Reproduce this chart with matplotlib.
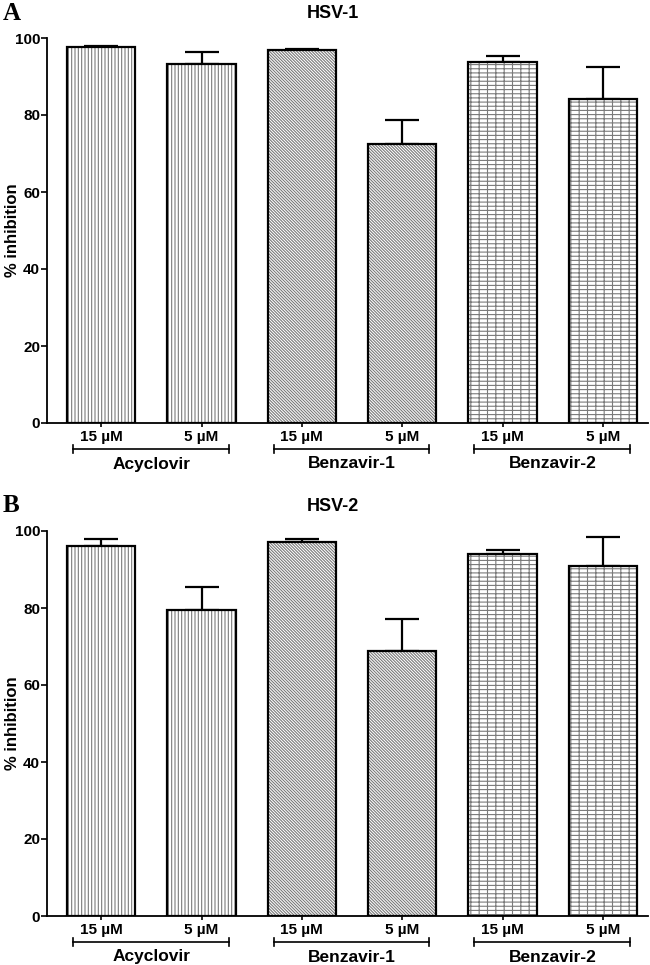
import numpy as np
import matplotlib
matplotlib.use('Agg')
import matplotlib.pyplot as plt
from matplotlib.transforms import blended_transform_factory

plt.rcParams['font.family'] = ['Liberation Sans', 'DejaVu Sans']
plt.rcParams['font.weight'] = 'bold'
plt.rcParams['hatch.linewidth'] = 0.8

# data
groups = ['Acyclovir', 'Benzavir-1', 'Benzavir-2']
conc = ['15 µM', '5 µM']
hsv1_mean = [97.6, 93.3, 97.0, 72.4, 93.7, 84.2]
hsv1_err = [0.3, 3.1, 0.2, 6.3, 1.6, 8.3]
hsv2_mean = [96.2, 79.5, 97.2, 68.8, 94.0, 90.8]
hsv2_err = [1.6, 6.0, 0.6, 8.4, 1.0, 7.7]
hatches = ['|||||', '\\' * 11, '----||']

panels = [('A', 'HSV-1', hsv1_mean, hsv1_err),
          ('B', 'HSV-2', hsv2_mean, hsv2_err)]

fig = plt.figure(figsize=(6.5, 9.65), dpi=100)
W, H = 650., 965.

def draw_panel(ax, letter, title, mean, err, top_px):
    x = np.arange(len(mean))
    pat = [hatches[i // 2] for i in x]
    # hatch layer in grey, outline on top in black
    for xi, m, h in zip(x, mean, pat):
        ax.bar(xi, m, width=0.68, color='white', edgecolor='#7a7a7a',
               linewidth=0, hatch=h, zorder=2)
    ax.bar(x, mean, width=0.68, facecolor='none', edgecolor='black',
           linewidth=1.6, zorder=3)
    ax.errorbar(x, mean, yerr=[np.zeros(len(err)), err], fmt='none',
                ecolor='black', elinewidth=1.6, capsize=12, capthick=1.6,
                zorder=1)

    ax.set_ylim(0, 100)
    ax.set_xlim(-0.54, 5.45)
    ax.set_yticks([0, 20, 40, 60, 80, 100])
    ax.set_xticks(x)
    ax.set_xticklabels([])
    ax.tick_params(axis='y', length=4, width=1.2, labelsize=11, pad=1)
    ax.tick_params(axis='x', length=3, width=1.2)
    for s in ['top', 'right']:
        ax.spines[s].set_visible(False)
    for s in ['left', 'bottom']:
        ax.spines[s].set_linewidth(1.3)
    for lab in ax.get_yticklabels():
        lab.set_fontweight('bold')

    tr = blended_transform_factory(ax.transData, ax.transAxes)
    hpx = ax.get_position().height * H
    for xi in x:
        ax.text(xi, -14 / hpx, conc[xi % 2], transform=tr, ha='center',
                va='center', fontsize=11, fontweight='bold')
    for gi, g in enumerate(groups):
        x0, x1 = 2 * gi - 0.28, 2 * gi + 1.27
        yb = -26 / hpx
        tk = 4 / hpx
        ax.plot([x0, x1], [yb, yb], color='black', lw=1.2, transform=tr,
                clip_on=False)
        ax.plot([x0, x0], [yb - tk, yb + tk], color='black', lw=1.2,
                transform=tr, clip_on=False)
        ax.plot([x1, x1], [yb - tk, yb + tk], color='black', lw=1.2,
                transform=tr, clip_on=False)
        ax.text(2 * gi + 0.5, -41 / hpx, g, transform=tr, ha='center',
                va='center', fontsize=12.5, fontweight='bold')

    pos = ax.get_position()
    fig.text(333 / W, 1 - (top_px - 24) / H, title, ha='center', va='center',
             fontsize=13, fontweight='bold')
    fig.text(3 / W, 1 - (top_px - 25) / H, letter, ha='left', va='center',
             fontsize=18, fontweight='bold', family='Liberation Serif')
    fig.text(13 / W, pos.y0 + pos.height / 2, '% inhibition', rotation=90,
             ha='center', va='center', fontsize=12, fontweight='bold')

for (letter, title, mean, err), top_px in zip(panels, [38, 531]):
    ax = fig.add_axes([47 / W, 1 - (top_px + 385) / H, 601 / W, 385 / H])
    draw_panel(ax, letter, title, mean, err, top_px)

fig.savefig('out.png', dpi=100)
